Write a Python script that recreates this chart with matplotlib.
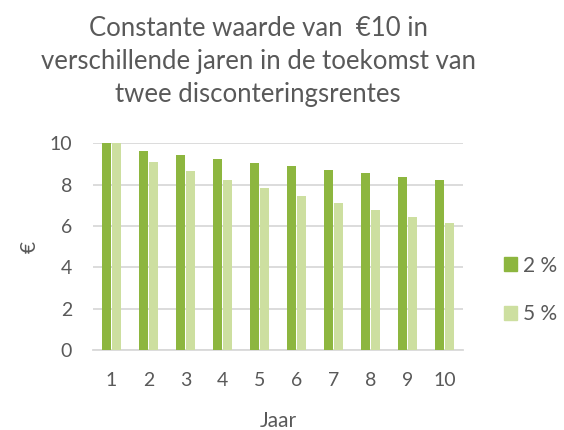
import numpy as np
import matplotlib
matplotlib.use("Agg")
import matplotlib.pyplot as plt
from matplotlib.patches import Patch

plt.rcParams["font.family"] = ["Lato", "DejaVu Sans"]

jaren = [1, 2, 3, 4, 5, 6, 7, 8, 9, 10]
rente_2 = [10.0, 9.61, 9.42, 9.24, 9.06, 8.88, 8.71, 8.54, 8.37, 8.20]
rente_5 = [10.0, 9.07, 8.64, 8.23, 7.84, 7.46, 7.11, 6.77, 6.45, 6.14]
labels = ["2 %", "5 %"]

donker = "#8db63f"
licht = "#cddfa0"
tekst = "#595959"

fig = plt.figure(figsize=(5.64, 4.30), dpi=100)
ax = fig.add_axes([0.165, 0.186, 0.656, 0.481])

x = np.arange(len(jaren))
w = 0.22
ax.bar(x - 0.135, rente_2, w, color=donker, zorder=3)
ax.bar(x + 0.135, rente_5, w, color=licht, zorder=3)

ax.set_xlim(-0.5, len(jaren) - 0.5)
ax.set_ylim(0, 10)
ax.set_yticks([0, 2, 4, 6, 8, 10])
ax.set_xticks(x)
ax.set_xticklabels([str(j) for j in jaren])
ax.yaxis.grid(True, color="#d9d9d9", lw=1.3, zorder=0)
for s in ["top", "right", "left"]:
    ax.spines[s].set_visible(False)
ax.spines["bottom"].set_color("#d9d9d9")
ax.spines["bottom"].set_linewidth(1.3)
ax.tick_params(length=0, colors=tekst, labelsize=14, pad=16)
ax.tick_params(axis="y", pad=15)

ax.set_xlabel("Jaar", color=tekst, fontsize=15, labelpad=16)
ax.set_ylabel("€", color=tekst, fontsize=15, labelpad=7)

fig.text(0.458, 0.856, "Constante waarde van  €10 in\nverschillende jaren in de toekomst van\ntwee disconteringsrentes",
         ha="center", va="center", color=tekst, fontsize=18.5,
         linespacing=1.4)

handles = [Patch(color=donker), Patch(color=licht)]
fig.legend(handles, labels, loc="center left", bbox_to_anchor=(0.893, 0.326),
           frameon=False, fontsize=15, labelcolor=tekst, handlelength=0.65,
           handleheight=0.65, handletextpad=0.3, labelspacing=1.35,
           borderaxespad=0, borderpad=0)

fig.savefig("out.png", dpi=100)
